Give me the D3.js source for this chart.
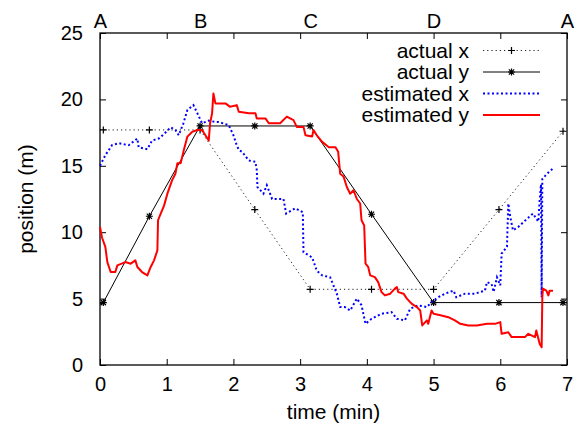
<!DOCTYPE html>
<html>
<head>
<meta charset="utf-8">
<script src="https://cdn.jsdelivr.net/npm/d3@7"></script>
<style>
  body { margin: 0; background: #fff; }
  svg { display: block; font-family: "Liberation Sans", Arial, Helvetica, sans-serif; }
</style>
</head>
<body>
<svg id="chart"></svg>
<script>
// actual path (waypoints A-B-C-D-A plus the marked samples)
const actualT = [0, 0.05, 0.74, 1.5, 2.32, 3.15, 4.07, 5.0, 5.98, 6.94, 7];
const actualX = [17.7, 17.7, 17.7, 17.7, 11.7, 5.7, 5.7, 5.7, 11.7, 17.6, 17.7];
const actualY = [4.6, 4.7, 11.2, 18.0, 18.0, 18.0, 11.35, 4.7, 4.7, 4.7, 4.7];

// estimated x (blue dotted)
const estXT = [0, 0.08, 0.18, 0.28, 0.43, 0.56, 0.58, 0.71, 0.78, 0.88, 0.96, 1.06, 1.13, 1.18, 1.25, 1.31, 1.40, 1.46,
  1.53, 1.63, 1.73, 1.78, 1.93, 2.00, 2.05, 2.08, 2.13, 2.23, 2.33, 2.35, 2.36, 2.45, 2.50, 2.58, 2.75, 2.79, 2.93, 3.04,
  3.05, 3.18, 3.25, 3.33, 3.45, 3.55, 3.60, 3.67, 3.75, 3.85, 3.92, 3.98, 4.07, 4.22, 4.37, 4.45, 4.57, 4.65, 4.77, 4.90,
  4.97, 5.07, 5.17, 5.30, 5.34, 5.47, 5.62, 5.77, 5.80, 5.87, 5.90, 5.95, 6.00, 6.02, 6.10, 6.12, 6.15, 6.19, 6.27, 6.40,
  6.49, 6.57, 6.59, 6.61, 6.62, 6.63, 6.70, 6.79];
const estXV = [15.0, 15.8, 16.55, 16.7, 16.55, 17.05, 16.4, 16.25, 16.9, 17.05, 17.4, 17.9, 17.7, 17.3, 18.2, 19.2, 19.57, 18.95,
  18.2, 18.4, 18.3, 18.3, 18.06, 17.3, 16.55, 16.2, 16.05, 15.4, 15.3, 14.67, 13.4, 12.9, 13.54, 12.5, 12.5, 11.4, 11.8, 11.5,
  8.5, 8.1, 7.1, 6.75, 6.6, 5.37, 4.36, 4.36, 4.1, 5.0, 4.5, 3.1, 3.48, 3.86, 3.98, 3.48, 3.36, 4.24, 4.49, 4.36,
  4.74, 5.1, 5.37, 5.6, 5.1, 5.37, 5.37, 5.6, 6.24, 6.1, 5.5, 6.6, 6.0, 8.39, 8.9, 12.16, 11.15, 10.14, 10.4, 11.0,
  11.4, 10.8, 12.4, 13.6, 5.1, 14.0, 14.4, 14.8];

// estimated y (red solid)
const estYT = [0, 0.03, 0.08, 0.11, 0.16, 0.23, 0.26, 0.38, 0.46, 0.53, 0.56, 0.63, 0.71, 0.76, 0.81, 0.86, 0.87, 0.91,
  0.96, 1.01, 1.08, 1.13, 1.16, 1.21, 1.25, 1.31, 1.38, 1.46, 1.53, 1.58, 1.63, 1.65, 1.68, 1.70, 1.73, 1.78, 1.88,
  1.95, 2.05, 2.08, 2.23, 2.33, 2.35, 2.48, 2.53, 2.70, 2.80, 2.90, 2.95, 3.05, 3.08, 3.18, 3.20, 3.25, 3.33, 3.43,
  3.53, 3.57, 3.60, 3.65, 3.70, 3.75, 3.80, 3.85, 3.90, 3.92, 3.96, 3.98, 4.02, 4.05, 4.12, 4.17, 4.22, 4.27, 4.35,
  4.42, 4.45, 4.47, 4.55, 4.60, 4.67, 4.75, 4.80, 4.83, 4.90, 4.92, 4.97, 5.00, 5.12, 5.22, 5.32, 5.40, 5.52, 5.65,
  5.80, 5.92, 6.00, 6.02, 6.12, 6.17, 6.27, 6.37, 6.42, 6.52, 6.54, 6.59, 6.62, 6.63, 6.64, 6.69, 6.72, 6.74, 6.79];
const estYV = [10.4, 9.6, 8.9, 7.75, 7.0, 7.0, 7.5, 7.75, 7.63, 7.88, 7.38, 7.0, 6.75, 7.38, 7.88, 8.63, 10.9, 11.4,
  12.0, 12.9, 13.9, 14.4, 15.2, 15.2, 16.05, 17.2, 17.55, 17.7, 17.7, 17.3, 16.9, 18.2, 18.95, 20.45, 19.7, 19.7, 19.7,
  19.44, 19.57, 19.07, 18.95, 18.95, 18.57, 18.57, 18.2, 18.2, 18.7, 18.44, 17.93, 17.93, 17.3, 17.2, 17.7, 17.3, 16.8, 16.4,
  16.4, 16.05, 14.4, 14.2, 13.4, 12.9, 13.16, 12.5, 12.16, 10.9, 10.5, 7.63, 7.38, 6.75, 6.62, 6.24, 5.49, 5.24, 5.37,
  5.75, 5.87, 5.49, 5.37, 5.0, 4.62, 4.36, 4.1, 2.98, 3.36, 3.1, 4.1, 3.86, 3.73, 3.6, 3.36, 3.1, 2.98, 2.98,
  3.1, 3.1, 3.23, 2.35, 2.47, 2.1, 2.1, 2.1, 2.35, 2.1, 2.6, 1.6, 1.34, 5.1, 5.75, 5.6, 5.24, 5.6, 5.6];

// tick labels
const xTicks = [0, 1, 2, 3, 4, 5, 6, 7];
const yTicks = [0, 5, 10, 15, 20, 25];
const topLabels = ['A', 'B', 'C', 'D', 'A'];
const topLabelT = [0, 1.5, 3.15, 5, 7];

const width = 579
const height = 430
const padLeft = 100, padRight = 12, padTop = 33, padBottom = 65

const svg = d3.select('#chart').attr('width', width).attr('height', height)

const xScale = d3.scaleLinear().domain([0, 7]).range([padLeft, width - padRight])
const yScale = d3.scaleLinear().domain([0, 25]).range([height - padBottom, padTop])

const tickFont = '20px'
const textFont = '21px'

// axes (ticks point inward like gnuplot)
const styleAxis = g => {
  g.select('.domain').remove()
  g.selectAll('line').attr('stroke', '#000')
  g.selectAll('text').attr('fill', '#000').style('font-size', tickFont).style('font-family', null)
}

svg.append('g')
  .attr('transform', 'translate(0,' + (height - padBottom) + ')')
  .call(d3.axisBottom(xScale).tickValues(xTicks).tickFormat(d3.format('d')).tickSizeInner(-6).tickSizeOuter(0).tickPadding(12))
  .call(styleAxis)

svg.append('g')
  .attr('transform', 'translate(0,' + padTop + ')')
  .call(d3.axisTop(xScale).tickValues(xTicks).tickFormat('').tickSizeInner(-6).tickSizeOuter(0))
  .call(styleAxis)

svg.append('g')
  .attr('transform', 'translate(0,' + padTop + ')')
  .call(d3.axisTop(xScale).tickValues(topLabelT).tickFormat((d, i) => topLabels[i]).tickSize(0).tickPadding(5))
  .call(styleAxis)

svg.append('g')
  .attr('transform', 'translate(' + padLeft + ',0)')
  .call(d3.axisLeft(yScale).tickValues(yTicks).tickFormat(d3.format('d')).tickSizeInner(-6).tickSizeOuter(0).tickPadding(17))
  .call(styleAxis)

svg.append('g')
  .attr('transform', 'translate(' + (width - padRight) + ',0)')
  .call(d3.axisRight(yScale).tickValues(yTicks).tickFormat('').tickSizeInner(-6).tickSizeOuter(0))
  .call(styleAxis)

// border
svg.append('rect')
  .attr('x', padLeft).attr('y', padTop)
  .attr('width', width - padLeft - padRight).attr('height', height - padTop - padBottom)
  .attr('fill', 'none').attr('stroke', '#000').attr('stroke-width', 1.3)

// axis titles
svg.append('text')
  .attr('x', (padLeft + width - padRight) / 2).attr('y', 419)
  .attr('text-anchor', 'middle').style('font-size', textFont)
  .text('time (min)')
svg.append('text')
  .attr('transform', 'translate(33,' + ((padTop + height - padBottom) / 2) + ') rotate(-90)')
  .attr('text-anchor', 'middle').style('font-size', textFont)
  .text('position (m)')

// marker paths
const plusPath = (x, y, r) => `M${x - r},${y}H${x + r}M${x},${y - r}V${y + r}`
const starPath = (x, y, r) => plusPath(x, y, r) + `M${x - r * 0.75},${y - r * 0.75}L${x + r * 0.75},${y + r * 0.75}M${x - r * 0.75},${y + r * 0.75}L${x + r * 0.75},${y - r * 0.75}`

const line = d3.line().x(d => xScale(d[0])).y(d => yScale(d[1]))
const zip = (a, b) => a.map((v, i) => [v, b[i]])

const plot = svg.append('g')

// actual x
plot.append('path')
  .attr('d', line(zip(actualT, actualX)))
  .attr('fill', 'none').attr('stroke', '#222').attr('stroke-width', 1)
  .attr('stroke-dasharray', '1.2,3')
plot.append('path')
  .attr('d', zip(actualT, actualX).slice(1, -1).map(d => plusPath(xScale(d[0]), yScale(d[1]), 3.5)).join(''))
  .attr('stroke', '#000').attr('stroke-width', 1.2)

// actual y
plot.append('path')
  .attr('d', line(zip(actualT, actualY)))
  .attr('fill', 'none').attr('stroke', '#000').attr('stroke-width', 1)
plot.append('path')
  .attr('d', zip(actualT, actualY).slice(1, -1).map(d => starPath(xScale(d[0]), yScale(d[1]), 3.5)).join(''))
  .attr('stroke', '#000').attr('stroke-width', 1.2)

// estimated x
plot.append('path')
  .attr('d', line(zip(estXT, estXV)))
  .attr('fill', 'none').attr('stroke', '#0000ff').attr('stroke-width', 2)
  .attr('stroke-dasharray', '2,2.5')

// estimated y
plot.append('path')
  .attr('d', line(zip(estYT, estYV)))
  .attr('fill', 'none').attr('stroke', '#ff0000').attr('stroke-width', 2)
  .attr('stroke-linejoin', 'round')

// legend
const legendItems = [
  { label: 'actual x', stroke: '#222', width: 1, dash: '1.2,3', marker: 'plus' },
  { label: 'actual y', stroke: '#000', width: 1, dash: null, marker: 'star' },
  { label: 'estimated x', stroke: '#0000ff', width: 2, dash: '2,2.5', marker: null },
  { label: 'estimated y', stroke: '#ff0000', width: 2, dash: null, marker: null }
]
const legend = svg.append('g')
legendItems.forEach((item, i) => {
  const y = 50.5 + i * 21.5
  legend.append('text')
    .attr('x', 469).attr('y', y).attr('dy', '0.35em')
    .attr('text-anchor', 'end').style('font-size', textFont)
    .text(item.label)
  legend.append('line')
    .attr('x1', 483).attr('x2', 540).attr('y1', y).attr('y2', y)
    .attr('stroke', item.stroke).attr('stroke-width', item.width)
    .attr('stroke-dasharray', item.dash)
  if (item.marker) {
    legend.append('path')
      .attr('d', item.marker === 'plus' ? plusPath(511.5, y, 3.5) : starPath(511.5, y, 3.5))
      .attr('stroke', '#000').attr('stroke-width', 1.2)
  }
})
</script>
</body>
</html>
